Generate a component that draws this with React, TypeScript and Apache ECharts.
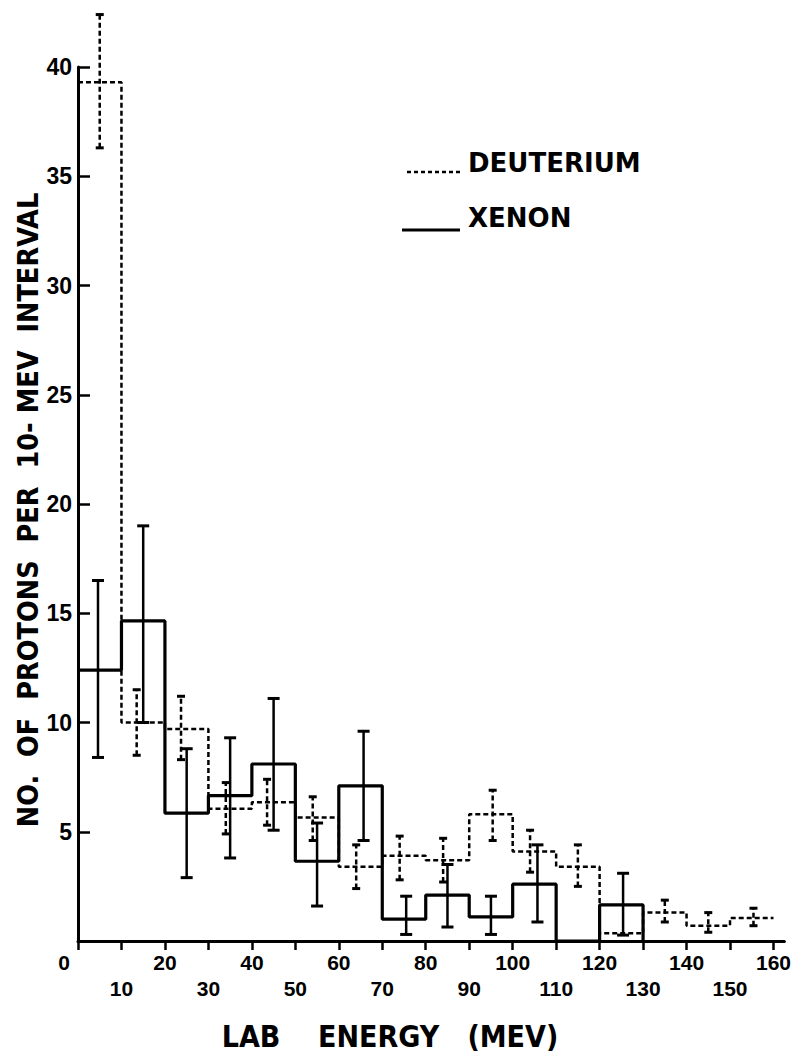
import React, { useEffect, useRef } from "react";
import * as echarts from "echarts";

// Bin left edges (MeV) and heights of the two histograms
const deutEdges = [0, 10, 20, 30, 40, 50, 60, 70, 80, 90, 100, 110, 120, 130, 140, 150, 160];
const deutValues = [39.3, 10.0, 9.7, 6.05, 6.35, 5.65, 3.4, 3.9, 3.7, 5.8, 4.1, 3.4, 0.35, 1.3, 0.7, 1.05, 1.05];

const xenonEdges = [0, 10, 20, 30, 40, 50, 60, 70, 80, 90, 100, 110, 120, 130];
const xenonValues = [12.4, 14.65, 5.85, 6.65, 8.1, 3.65, 7.1, 1.0, 2.1, 1.1, 2.6, 0, 1.65, 0];

// Error bars: position, low, high
const deutErrX = [5, 13.5, 23.7, 34, 43.5, 54, 64, 74, 84, 95.4, 104, 115, 135, 145, 155.4];
const deutErrLow = [36.3, 8.5, 8.3, 4.9, 5.3, 4.6, 2.4, 2.8, 2.7, 4.6, 3.15, 2.5, 0.87, 0.4, 0.7];
const deutErrHigh = [42.4, 11.5, 11.2, 7.25, 7.4, 6.6, 4.4, 4.8, 4.7, 6.9, 5.07, 4.4, 1.87, 1.3, 1.5];

const xenonErrX = [4.6, 15, 25, 35, 45, 55, 65.7, 75.5, 85, 95, 105.7, 125.4];
const xenonErrLow = [8.4, 10.0, 2.9, 3.8, 5.07, 1.6, 4.6, 0.3, 0.64, 0.3, 0.87, 0.27];
const xenonErrHigh = [16.5, 19.0, 8.8, 9.3, 11.1, 5.4, 9.6, 2.05, 3.5, 2.05, 4.4, 3.1];

const xTickValues = [0, 10, 20, 30, 40, 50, 60, 70, 80, 90, 100, 110, 120, 130, 140, 150, 160];
const yTickValues = [0, 5, 10, 15, 20, 25, 30, 35, 40];

const xTitle = "LAB    ENERGY   (MEV)";
const yTitle = "NO.  OF  PROTONS  PER  10- MEV  INTERVAL";
const legendNames = ["DEUTERIUM", "XENON"];

const NUM_FONT = "'Liberation Sans', Arial, sans-serif";
const NARROW_FONT = "'Liberation Sans Narrow', 'DejaVu Sans Condensed', 'Liberation Sans', sans-serif";

function errRender(capHalf: number, width: number, dash: number[] | null) {
  return (params: any, api: any) => {
    const x = api.value(0);
    const lo = api.coord([x, api.value(1)]);
    const hi = api.coord([x, api.value(2)]);
    const style: any = { stroke: "#000", lineWidth: width, fill: "none" };
    if (dash) style.lineDash = dash;
    const capStyle = { stroke: "#000", lineWidth: width + 0.5, fill: "none" };
    return {
      type: "group",
      children: [
        { type: "line", shape: { x1: lo[0], y1: lo[1], x2: hi[0], y2: hi[1] }, style },
        { type: "line", shape: { x1: hi[0] - capHalf, y1: hi[1], x2: hi[0] + capHalf, y2: hi[1] }, style: capStyle },
        { type: "line", shape: { x1: lo[0] - capHalf, y1: lo[1], x2: lo[0] + capHalf, y2: lo[1] }, style: capStyle },
      ],
    };
  };
}

export default function App() {
  const ref = useRef<HTMLDivElement>(null);
  useEffect(() => {
    if (!ref.current) return;
    const chart = echarts.init(ref.current, null, { renderer: "svg" });
    const deutData = deutEdges.map((e, i) => [e, deutValues[i]]);
    const xenonData = xenonEdges.map((e, i) => [e, xenonValues[i]]);
    const deutErr = deutErrX.map((x, i) => [x, deutErrLow[i], deutErrHigh[i]]);
    const xenonErr = xenonErrX.map((x, i) => [x, xenonErrLow[i], xenonErrHigh[i]]);

    chart.setOption({
      animation: false,
      backgroundColor: "#fff",
      grid: { left: 78, top: 67, right: 6, bottom: 114, containLabel: false },
      xAxis: {
        type: "value",
        min: 0,
        max: 162.5,
        splitLine: { show: false },
        axisLine: { show: true, lineStyle: { color: "#000", width: 3 } },
        axisTick: { show: true, inside: false, length: 9, customValues: xTickValues, lineStyle: { color: "#000", width: 2.5 } },
        axisLabel: {
          customValues: xTickValues,
          margin: 8,
          color: "#000",
          fontSize: 21,
          fontWeight: "bold",
          fontFamily: NUM_FONT,
          lineHeight: 26,
          formatter: (v: number) => (v === 0 ? "{z|0}" : v % 20 === 0 ? String(v) : "\n" + v),
          rich: {
            z: { padding: [0, 28, 0, 0], fontSize: 21, fontWeight: "bold", fontFamily: NUM_FONT, color: "#000", lineHeight: 26 },
          },
        },
      },
      yAxis: {
        type: "value",
        min: 0,
        max: 40,
        interval: 5,
        splitLine: { show: false },
        axisLine: { show: true, lineStyle: { color: "#000", width: 3 } },
        axisTick: { show: true, inside: true, length: 12, lineStyle: { color: "#000", width: 2.5 } },
        axisLabel: {
          margin: 6,
          color: "#000",
          fontSize: 23,
          fontWeight: "bold",
          fontFamily: NUM_FONT,
          formatter: (v: number) => (v === 0 || yTickValues.indexOf(v) < 0 ? "" : String(v)),
        },
      },
      series: [
        {
          name: legendNames[0],
          type: "line",
          step: "end",
          data: deutData,
          symbol: "none",
          clip: false,
          lineStyle: { color: "#000", width: 2.5, type: [5, 3] },
        },
        {
          name: legendNames[1],
          type: "line",
          step: "end",
          data: xenonData,
          symbol: "none",
          clip: false,
          lineStyle: { color: "#000", width: 3.2 },
        },
        {
          type: "custom",
          data: deutErr,
          clip: false,
          renderItem: errRender(4, 2.5, [5, 3]),
        },
        {
          type: "custom",
          data: xenonErr,
          clip: false,
          renderItem: errRender(6, 2.5, null),
        },
      ],
      graphic: [
        {
          type: "line",
          shape: { x1: 407, y1: 172, x2: 462, y2: 172 },
          style: { stroke: "#000", lineWidth: 2.5, lineDash: [4, 3] },
        },
        {
          type: "text",
          x: 468,
          y: 163,
          style: { text: legendNames[0], fill: "#000", font: "bold 26px 'DejaVu Sans', sans-serif", textAlign: "left", textVerticalAlign: "middle" },
        },
        {
          type: "line",
          shape: { x1: 402, y1: 230, x2: 460, y2: 230 },
          style: { stroke: "#000", lineWidth: 3 },
        },
        {
          type: "text",
          x: 468,
          y: 218,
          style: { text: legendNames[1], fill: "#000", font: "bold 26px 'DejaVu Sans', sans-serif", textAlign: "left", textVerticalAlign: "middle" },
        },
        {
          type: "text",
          x: 390,
          y: 1036,
          style: { text: xTitle, fill: "#000", font: `bold 30px ${NARROW_FONT}`, textAlign: "center", textVerticalAlign: "middle" },
        },
        {
          type: "text",
          x: 28,
          y: 510,
          rotation: Math.PI / 2,
          style: { text: yTitle, fill: "#000", font: `bold 28.5px ${NARROW_FONT}`, textAlign: "center", textVerticalAlign: "middle" },
        },
      ],
    });
    return () => chart.dispose();
  }, []);
  return <div ref={ref} style={{ position: "absolute", left: 0, top: 0, width: 794, height: 1055 }} />;
}
